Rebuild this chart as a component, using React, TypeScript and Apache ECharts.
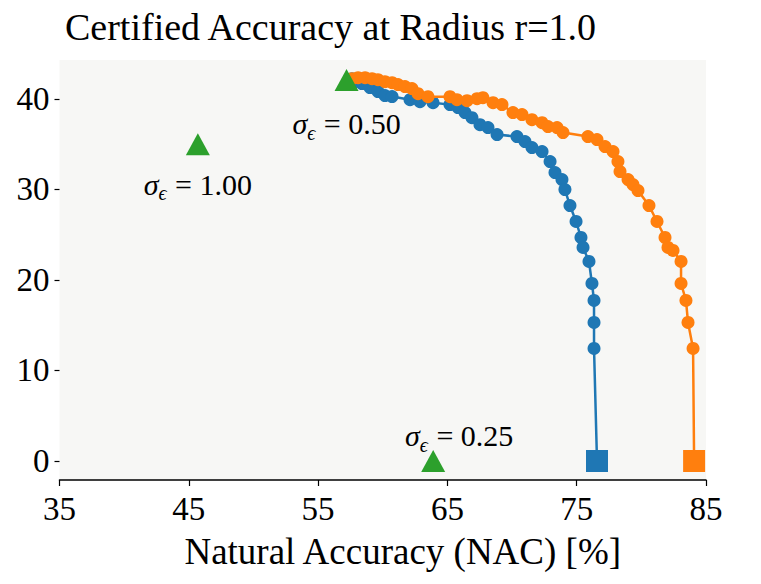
import React, { useEffect, useRef } from "react";
import * as echarts from "echarts";

const blueNAC = [57.62, 57.85, 58.39, 59.01, 59.63, 60.17, 60.72, 62.11, 62.88, 63.89, 65.2, 65.82, 66.36, 66.9, 67.52, 68.14, 68.84, 70.38, 71.0, 71.54, 72.32, 72.94, 73.32, 73.86, 74.09, 74.48, 74.95, 75.33, 75.49, 75.95, 76.18, 76.34, 76.34, 76.34, 76.57];
const blueCert = [42.24, 41.91, 41.69, 41.25, 40.81, 40.37, 40.26, 39.92, 39.7, 39.59, 39.37, 39.04, 38.49, 37.93, 37.16, 36.83, 36.06, 35.84, 35.29, 34.63, 34.19, 33.08, 31.87, 31.09, 29.99, 28.22, 26.46, 24.69, 23.59, 22.04, 19.61, 17.74, 15.31, 12.44, 0];

const orangeNAC = [57.62, 58.09, 58.63, 59.17, 59.63, 60.17, 60.72, 61.18, 61.72, 62.26, 62.73, 63.5, 65.2, 65.74, 66.52, 67.29, 67.75, 68.53, 69.22, 70.07, 70.77, 71.54, 72.32, 72.78, 73.48, 73.94, 75.87, 76.57, 77.19, 77.81, 78.19, 78.35, 78.97, 79.35, 79.74, 80.59, 81.21, 81.83, 82.06, 82.45, 83.07, 83.07, 83.45, 83.61, 84.0, 84.08];
const orangeCert = [42.24, 42.35, 42.35, 42.24, 42.13, 41.91, 41.8, 41.58, 41.36, 41.14, 40.58, 40.25, 40.25, 39.92, 39.81, 40.03, 40.14, 39.59, 39.37, 38.49, 38.27, 37.71, 37.38, 36.94, 36.83, 36.28, 35.84, 35.51, 34.73, 34.18, 33.08, 31.98, 31.09, 30.54, 29.88, 28.22, 26.46, 24.69, 23.59, 23.26, 22.04, 19.61, 17.74, 15.31, 12.44, 0];

const sigmaNAC = [57.2, 45.7, 63.9];
const sigmaCert = [42.1, 35.0, 0];
const sigmaLabels = ["0.50", "1.00", "0.25"];
const sigmaLabelOffsets = [[0, 45], [0, 41], [26, -24]];

const xTicks = [35, 45, 55, 65, 75, 85];
const yTicks = [0, 10, 20, 30, 40];

const FONT = "'Liberation Serif', 'DejaVu Serif', serif";

function lineData(xs: number[], ys: number[]) {
  return xs.map((x, i) => {
    const last = i === xs.length - 1;
    return last
      ? { value: [x, ys[i]], symbol: "rect", symbolSize: 22 }
      : { value: [x, ys[i]] };
  });
}

export default function App() {
  const ref = useRef<HTMLDivElement>(null);
  useEffect(() => {
    if (!ref.current) return;
    const chart = echarts.init(ref.current, undefined, { renderer: "svg" });
    const richLabel = {
      s: { fontFamily: FONT, fontSize: 30, fontStyle: "italic", color: "#000", verticalAlign: "top", lineHeight: 32 },
      e: { fontFamily: FONT, fontSize: 20, fontStyle: "italic", color: "#000", verticalAlign: "top", lineHeight: 20, padding: [14, 1, 0, 0] },
      t: { fontFamily: FONT, fontSize: 30, color: "#000", verticalAlign: "top", lineHeight: 32 },
    };
    chart.setOption({
      animation: false,
      title: {
        text: "Certified Accuracy at Radius r=1.0",
        left: 60,
        top: 3,
        textStyle: { fontFamily: FONT, fontSize: 38, fontWeight: "normal", color: "#000" },
      },
      grid: {
        left: 59.5,
        right: 55,
        top: 60,
        bottom: 104,
        show: true,
        backgroundColor: "#f7f7f5",
        borderWidth: 0,
      },
      xAxis: {
        type: "value",
        min: 35,
        max: 85,
        interval: 5,
        name: "Natural Accuracy (NAC) [%]",
        nameLocation: "middle",
        nameGap: 53,
        nameTextStyle: { fontFamily: FONT, fontSize: 37, color: "#000", padding: [0, 0, 0, 40] },
        axisLine: { show: true, onZero: false, lineStyle: { color: "#000", width: 1.5 } },
        axisTick: { show: true, length: 6, lineStyle: { color: "#000", width: 1.2 }, customValues: xTicks },
        axisLabel: { fontFamily: FONT, fontSize: 33, color: "#000", margin: 12, customValues: xTicks },
        splitLine: { show: false },
      },
      yAxis: {
        type: "value",
        min: -2.1,
        max: 44.3,
        axisLine: { show: false },
        axisTick: { show: true, length: 5, lineStyle: { color: "#000", width: 1.2 }, customValues: yTicks },
        axisLabel: { fontFamily: FONT, fontSize: 33, color: "#000", margin: 10, customValues: yTicks },
        splitLine: { show: false },
      },
      series: [
        {
          type: "line",
          data: lineData(blueNAC, blueCert),
          symbol: "circle",
          symbolSize: 13,
          showAllSymbol: true,
          color: "#1f77b4",
          itemStyle: { color: "#1f77b4" },
          lineStyle: { color: "#1f77b4", width: 2.5 },
          z: 2,
        },
        {
          type: "line",
          data: lineData(orangeNAC, orangeCert),
          symbol: "circle",
          symbolSize: 13,
          showAllSymbol: true,
          color: "#ff7f0e",
          itemStyle: { color: "#ff7f0e" },
          lineStyle: { color: "#ff7f0e", width: 2.5 },
          z: 3,
        },
        {
          type: "scatter",
          data: sigmaNAC.map((x, i) => ({
            value: [x, sigmaCert[i]],
            label: {
              show: true,
              position: "inside",
              offset: sigmaLabelOffsets[i],
              formatter: `{s|σ}{e|ϵ}{t| = ${sigmaLabels[i]}}`,
              rich: richLabel,
            },
          })),
          symbol: "triangle",
          symbolSize: [24, 22],
          itemStyle: { color: "#2ca02c", opacity: 1 },
          z: 4,
        },
      ],
    });
    return () => chart.dispose();
  }, []);
  return <div ref={ref} style={{ width: 761, height: 584, position: "absolute", left: 0, top: 0 }} />;
}
